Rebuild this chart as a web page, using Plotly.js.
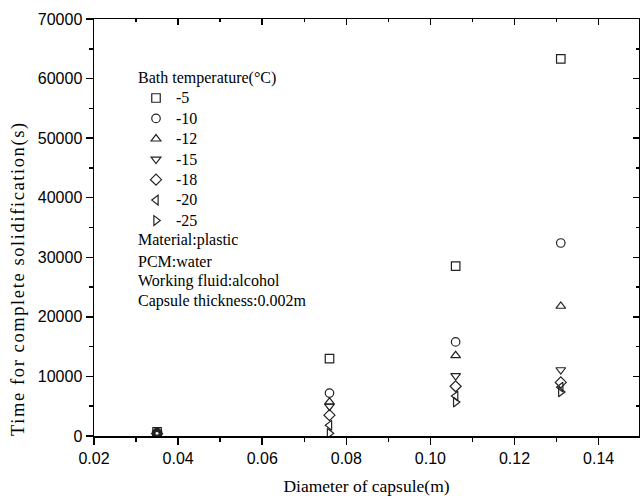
<!DOCTYPE html>
<html>
<head>
<meta charset="utf-8">
<script src="https://cdn.plot.ly/plotly-3.0.1.min.js"></script>
<style>html,body{margin:0;padding:0;background:#fff}#chart{width:640px;height:498px}</style>
</head>
<body>
<div id="chart"></div>
<script>
// Capsule diameters (m)
const diameters = [0.035, 0.076, 0.106, 0.131];
// Bath temperature labels (°C)
const bathLabels = ["-5", "-10", "-12", "-15", "-18", "-20", "-25"];
// Time for complete solidification (s) per bath temperature
const t_m5  = [700, 13000, 28500, 63300];
const t_m10 = [550, 7200, 15800, 32400];
const t_m12 = [500, 5700, 13500, 21800];
const t_m15 = [450, 5000, 10100, 11100];
const t_m18 = [400, 3500, 8350, 9000];
const t_m20 = [350, 1800, 6700, 8200];
const t_m25 = [300, 450, 5700, 7400];
const seriesValues = [t_m5, t_m10, t_m12, t_m15, t_m18, t_m20, t_m25];
const symbols = ["square-open", "circle-open", "triangle-up-open", "triangle-down-open",
                 "diamond-open", "triangle-left-open", "triangle-right-open"];
const noteLines = ["Material:plastic", "PCM:water", "Working fluid:alcohol", "Capsule thickness:0.002m"];
const xTitle = "Diameter of capsule(m)";
const yTitle = "Time for complete solidification(s)";

const serif = "Liberation Serif, Times New Roman, serif";
const sans = "Liberation Sans, Arial, sans-serif";

const traces = seriesValues.map((vals, i) => ({
  x: diameters, y: vals, type: "scatter", mode: "markers",
  name: '<span style="font-size:16px">' + bathLabels[i] + '</span>',
  marker: {symbol: symbols[i], size: 8.5, color: "#222", line: {color: "#222", width: 1.2}},
  xaxis: "x", yaxis: "y"
}));
// invisible helper trace so mirrored inner-tick axes are drawn
traces.push({x: [], y: [], xaxis: "x2", yaxis: "y2", showlegend: false, hoverinfo: "skip", type: "scatter", mode: "markers"});

const plotH = 498 - 19 - 62;
const plotW = 640 - 94 - 1;
const noteY = [240, 261, 281, 301];
const annotations = noteLines.map((t, i) => ({
  text: t, xref: "paper", yref: "paper", x: (136 - 94) / plotW, y: 1 - (noteY[i] - 19) / plotH,
  xanchor: "left", yanchor: "middle", showarrow: false,
  font: {family: serif, size: 16, color: "#000"}
}));
// y-axis title (drawn as rotated annotation to match its placement)
annotations.push({
  text: '<span style="letter-spacing:1.6px">' + yTitle + '</span>',
  xref: "paper", yref: "paper", x: (18 - 94) / plotW, y: 1 - (279 - 19) / plotH,
  xanchor: "center", yanchor: "middle", textangle: -90, showarrow: false,
  font: {family: serif, size: 18.5, color: "#000"}
});

const xr = [0.02, 0.1496], yr = [0, 70000];
const layout = {
  width: 640, height: 498,
  margin: {l: 94, r: 1, t: 19, b: 62},
  paper_bgcolor: "#fff", plot_bgcolor: "#fff",
  showlegend: true,
  legend: {
    x: (136 - 94) / plotW, y: 1 - (62 - 19) / plotH, xanchor: "left", yanchor: "top",
    bgcolor: "rgba(0,0,0,0)", borderwidth: 0,
    title: {text: "Bath temperature(°C)", font: {family: serif, size: 16, color: "#000"}},
    font: {family: serif, size: 13.4, color: "#000"},
    tracegroupgap: 0, itemwidth: 30
  },
  xaxis: {
    range: xr, tick0: 0.02, dtick: 0.02, tickformat: ".2f",
    ticks: "outside", ticklen: 7, tickwidth: 1.5, tickcolor: "#000",
    minor: {ticks: "outside", ticklen: 4, tickwidth: 1.5, dtick: 0.01, tick0: 0.02, tickcolor: "#000", showgrid: false},
    showline: true, linewidth: 1.5, linecolor: "#000", showgrid: false, zeroline: false,
    tickfont: {family: sans, size: 16, color: "#000"},
    title: {text: xTitle, font: {family: serif, size: 17.5, color: "#000"}, standoff: 14}
  },
  yaxis: {
    range: yr, tick0: 0, dtick: 10000, tickformat: "d",
    ticks: "outside", ticklen: 7, tickwidth: 1.5, tickcolor: "#000",
    minor: {ticks: "outside", ticklen: 4, tickwidth: 1.5, dtick: 5000, tickcolor: "#000", showgrid: false},
    showline: true, linewidth: 1.5, linecolor: "#000", showgrid: false, zeroline: false,
    tickfont: {family: sans, size: 16, color: "#000"}
  },
  xaxis2: {
    overlaying: "x", side: "top", range: xr, tick0: 0.02, dtick: 0.02,
    ticks: "inside", ticklen: 6, tickwidth: 1.5, tickcolor: "#000",
    minor: {ticks: "inside", ticklen: 3, tickwidth: 1.5, dtick: 0.01, tick0: 0.02, tickcolor: "#000", showgrid: false},
    showline: true, linewidth: 1.5, linecolor: "#000", showgrid: false, zeroline: false, showticklabels: false
  },
  yaxis2: {
    overlaying: "y", side: "right", range: yr, tick0: 0, dtick: 10000, anchor: "x2",
    ticks: "inside", ticklen: 6, tickwidth: 1.5, tickcolor: "#000",
    minor: {ticks: "inside", ticklen: 3, tickwidth: 1.5, dtick: 5000, tickcolor: "#000", showgrid: false},
    showline: true, linewidth: 1.5, linecolor: "#000", showgrid: false, zeroline: false, showticklabels: false
  },
  annotations: annotations
};

Plotly.newPlot("chart", traces, layout, {staticPlot: true, displayModeBar: false});
</script>
</body>
</html>
